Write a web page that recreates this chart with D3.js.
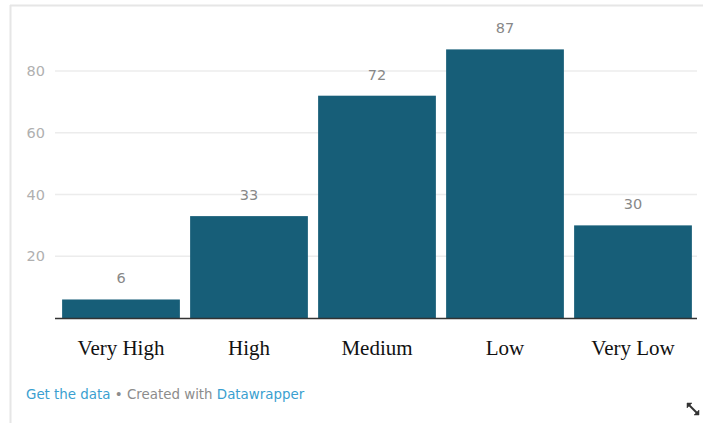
<!DOCTYPE html>
<html>
<head>
<meta charset="utf-8">
<script src="https://cdn.jsdelivr.net/npm/d3@7"></script>
<style>
  body { margin: 0; background: #fff; }
  svg { display: block; }
</style>
</head>
<body>
<svg width="703" height="423"></svg>
<script>
// Data
const categories = ["Very High", "High", "Medium", "Low", "Very Low"];
const counts = [6, 33, 72, 87, 30];
const yTicks = [20, 40, 60, 80];

const svg = d3.select("svg");

// frame of the embed
svg.append("line").attr("x1", 10).attr("x2", 703).attr("y1", 5.5).attr("y2", 5.5)
    .attr("stroke", "#e6e6e6").attr("stroke-width", 2);
svg.append("line").attr("x1", 10.5).attr("x2", 10.5).attr("y1", 5).attr("y2", 423)
    .attr("stroke", "#e6e6e6").attr("stroke-width", 2);

const x = d3.scaleBand()
    .domain(categories)
    .range([57, 697])
    .paddingInner(0.08)
    .paddingOuter(0.04);

const y = d3.scaleLinear()
    .domain([0, 80])
    .range([318, 71]);

// Gridlines + tick labels
const grid = svg.append("g");
grid.selectAll("line")
    .data(yTicks)
    .enter().append("line")
    .attr("x1", 55).attr("x2", 697)
    .attr("y1", d => y(d)).attr("y2", d => y(d))
    .attr("stroke", "#ececec")
    .attr("stroke-width", 1.5);
grid.selectAll("text")
    .data(yTicks)
    .enter().append("text")
    .attr("x", 45)
    .attr("y", d => y(d) + 5)
    .attr("text-anchor", "end")
    .style("font-family", "'DejaVu Sans', sans-serif")
    .style("font-size", "14.5px")
    .style("fill", "#b0b0b0")
    .text(d => d);

// Bars
svg.selectAll(".bar")
    .data(counts)
    .enter().append("rect")
    .attr("class", "bar")
    .attr("x", (d, i) => x(categories[i]))
    .attr("width", x.bandwidth())
    .attr("y", d => y(d))
    .attr("height", d => y(0) - y(d))
    .attr("fill", "#175e78");

// Value labels
svg.selectAll(".val")
    .data(counts)
    .enter().append("text")
    .attr("class", "val")
    .attr("x", (d, i) => x(categories[i]) + x.bandwidth() / 2)
    .attr("y", d => y(d) - 16)
    .attr("text-anchor", "middle")
    .style("font-family", "'DejaVu Sans', sans-serif")
    .style("font-size", "14.5px")
    .style("fill", "#888")
    .text(d => d);

// Baseline
svg.append("line")
    .attr("x1", 55).attr("x2", 697)
    .attr("y1", y(0) + 0.5).attr("y2", y(0) + 0.5)
    .attr("stroke", "#333")
    .attr("stroke-width", 1.5);

// Category labels
svg.selectAll(".cat")
    .data(categories)
    .enter().append("text")
    .attr("class", "cat")
    .attr("x", d => x(d) + x.bandwidth() / 2)
    .attr("y", 355)
    .attr("text-anchor", "middle")
    .style("font-family", "'Liberation Serif', 'Times New Roman', serif")
    .style("font-size", "21px")
    .style("fill", "#111")
    .text(d => d);

// Footer
const foot = svg.append("text")
    .attr("x", 26)
    .attr("y", 399)
    .style("font-family", "'DejaVu Sans', sans-serif")
    .style("font-size", "13.4px");
foot.append("tspan").style("fill", "#3a9fd0").text("Get the data");
foot.append("tspan").style("fill", "#8c8c8c").text(" \u2022 Created with ");
foot.append("tspan").style("fill", "#3a9fd0").text("Datawrapper");

// Resize icon
const icon = svg.append("g").attr("stroke", "#333").attr("stroke-width", 2).attr("fill", "#333");
icon.append("line").attr("x1", 689).attr("y1", 405).attr("x2", 697).attr("y2", 413);
icon.append("path").attr("d", "M687,403 L692,403 L687,408 Z").attr("stroke-width", 0.5);
icon.append("path").attr("d", "M699,415 L694,415 L699,410 Z").attr("stroke-width", 0.5);
</script>
</body>
</html>
